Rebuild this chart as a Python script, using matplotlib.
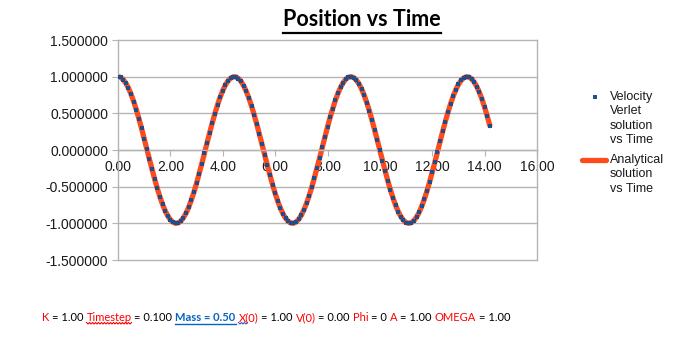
import numpy as np
import matplotlib
matplotlib.use("Agg")
import matplotlib.pyplot as plt
from matplotlib.lines import Line2D

# x(t) for the spring-mass run, one value per timestep
timestep = 0.100
position = [
    1.000, 0.990, 0.960, 0.911, 0.844, 0.760, 0.661, 0.549, 0.425, 0.294,
    0.156, 0.015, -0.126, -0.265, -0.398, -0.523, -0.638, -0.740, -0.828, -0.898,
    -0.951, -0.985, -1.000, -0.994, -0.968, -0.923, -0.860, -0.780, -0.683, -0.574,
    -0.453, -0.322, -0.186, -0.045, 0.096, 0.235, 0.370, 0.497, 0.614, 0.719,
    0.810, 0.885, 0.942, 0.980, 0.998, 0.997, 0.975, 0.935, 0.875, 0.798,
    0.705, 0.598, 0.480, 0.351, 0.216, 0.076, -0.066, -0.206, -0.341, -0.471,
    -0.590, -0.698, -0.792, -0.870, -0.931, -0.973, -0.996, -0.999, -0.982, -0.945,
    -0.889, -0.816, -0.727, -0.622, -0.506, -0.379, -0.245, -0.106, 0.035, 0.176,
    0.313, 0.444, 0.565, 0.676, 0.773, 0.855, 0.919, 0.966, 0.993, 1.000,
    0.987, 0.954, 0.903, 0.833, 0.747, 0.646, 0.532, 0.407, 0.274, 0.136,
    -0.005, -0.146, -0.284, -0.416, -0.540, -0.653, -0.754, -0.839, -0.907, -0.957,
    -0.989, -1.000, -0.991, -0.963, -0.915, -0.850, -0.767, -0.669, -0.557, -0.435,
    -0.303, -0.166, -0.025, 0.116, 0.255, 0.388, 0.514, 0.630, 0.733, 0.822,
    0.894, 0.948, 0.983, 0.999, 0.995, 0.971, 0.927, 0.865, 0.786, 0.691,
    0.582, 0.462, 0.332,
]
verlet_x = position
analytical_x = position
time = np.arange(len(position)) * timestep

x_ticks = [0, 2, 4, 6, 8, 10, 12, 14, 16]
y_ticks = [-1.5, -1.0, -0.5, 0.0, 0.5, 1.0, 1.5]

verlet_label = ["Velocity", "Verlet", "solution", "vs Time"]
analytical_label = ["Analytical", "solution", "vs Time"]

# parameter line under the chart: (text, colour, bold, underline style)
RED, BLACK, LINK = "#FF0000", "#000000", "#0563C1"
params = [
    ("K", RED, False, None),
    ("= 1.00", BLACK, False, None),
    ("Timestep", RED, False, "squiggle_red"),
    ("= 0.100", BLACK, False, None),
    ("Mass = 0.50", LINK, True, "line"),
    ("X(0)", RED, False, "squiggle_blue"),
    ("= 1.00", BLACK, False, None),
    ("V(0)", RED, False, None),
    ("= 0.00", BLACK, False, None),
    ("Phi", RED, False, None),
    ("= 0", BLACK, False, None),
    ("A", RED, False, None),
    ("= 1.00", BLACK, False, None),
    ("OMEGA", RED, False, None),
    ("= 1.00", BLACK, False, None),
]

W, H = 698, 339
GRAY = "#B4B4B4"
BLUE = "#1F4E8C"
ORANGE = "#FF4A1A"
TXT = "#1A1A1A"


def fx(px):
    return px / W


def fy(py):
    return 1 - py / H


plt.rcParams["font.family"] = ["Liberation Sans", "DejaVu Sans"]
fig = plt.figure(figsize=(W / 100, H / 100), dpi=100)
ax = fig.add_axes([fx(118), fy(260), (537 - 118) / W, (260 - 40) / H])

ax.plot(time, analytical_x, color=ORANGE, lw=3.8, solid_capstyle="round", zorder=2)
ax.plot(time, verlet_x, ls="none", marker="s", ms=2.3, mew=0, color=BLUE, zorder=3)

ax.set_xlim(0, 16)
ax.set_ylim(-1.5, 1.5)
ax.set_xticks(x_ticks)
ax.set_yticks(y_ticks)
ax.set_xticklabels([f"{v:.2f}" for v in x_ticks])
ax.set_yticklabels([f"{v:.6f}" for v in y_ticks])

ax.spines["top"].set_visible(False)
ax.spines["bottom"].set_position(("data", 0))
for side in ["left", "right", "bottom"]:
    ax.spines[side].set_color(GRAY)
    ax.spines[side].set_linewidth(1)
ax.yaxis.grid(True, color=GRAY, lw=1)
for gl in ax.get_ygridlines():
    gl.set_clip_on(False)
ax.tick_params(axis="x", direction="out", length=4, color=GRAY, pad=3,
               labelsize=10, labelcolor=TXT)
ax.tick_params(axis="y", direction="out", length=4, color=GRAY, pad=3,
               labelsize=10, labelcolor=TXT)

# title, underlined by hand
title = fig.text(fx(362), fy(20), "Position vs Time", family=["Lato", "DejaVu Sans"],
                 weight="bold", size=15.5, ha="center", va="center", color="black")

# legend on the right
fig.add_artist(Line2D([fx(595)], [fy(97)], marker="s", ms=2.3, mew=0, color=BLUE, ls="none"))
for i, s in enumerate(verlet_label):
    fig.text(fx(610), fy(97 + 14.3 * i), s, size=9, va="center", ha="left", color=TXT)
fig.add_artist(Line2D([fx(582), fx(606)], [fy(160), fy(160)], color=ORANGE, lw=3.8,
                      solid_capstyle="round"))
for i, s in enumerate(analytical_label):
    fig.text(fx(610), fy(160 + 14.3 * i), s, size=9, va="center", ha="left", color=TXT)

fig.canvas.draw()
r = fig.canvas.get_renderer()

bb = title.get_window_extent(r)
fig.add_artist(Line2D([bb.x0 / W, bb.x1 / W], [fy(32.5), fy(32.5)], color="black", lw=1.6))


def squiggle(x0, x1, y, color):
    xs = np.arange(x0, x1 + 0.1, 1.5)
    ys = y + np.where(np.arange(len(xs)) % 2 == 0, 0.0, 1.5)
    fig.add_artist(Line2D(xs / W, 1 - ys / H, color=color, lw=0.8))


# parameter line, laid out piece by piece
pfont = dict(family=["Lato", "DejaVu Sans"], size=8.0)
probe_a = fig.text(0, 0, "x x", **pfont)
probe_b = fig.text(0, 0, "xx", **pfont)
space = probe_a.get_window_extent(r).width - probe_b.get_window_extent(r).width
probe_a.remove()
probe_b.remove()

x = 42.0
base = 321.0
for s, col, bold, deco in params:
    t = fig.text(fx(x), fy(base), s, color=col, weight="bold" if bold else "normal",
                 va="baseline", ha="left", **pfont)
    w = t.get_window_extent(r).width
    if deco == "line":
        fig.add_artist(Line2D([fx(x), fx(x + w)], [fy(base + 2.5), fy(base + 2.5)],
                              color=col, lw=1))
    elif deco == "squiggle_red":
        squiggle(x, x + w, base + 1.5, "#FF0000")
    elif deco == "squiggle_blue":
        p = fig.text(0, 0, "X(", **pfont)
        wp = p.get_window_extent(r).width
        p.remove()
        squiggle(x, x + wp, base + 1.5, "#2F5CC7")
    x += w + space

fig.savefig("out.png", dpi=100)
